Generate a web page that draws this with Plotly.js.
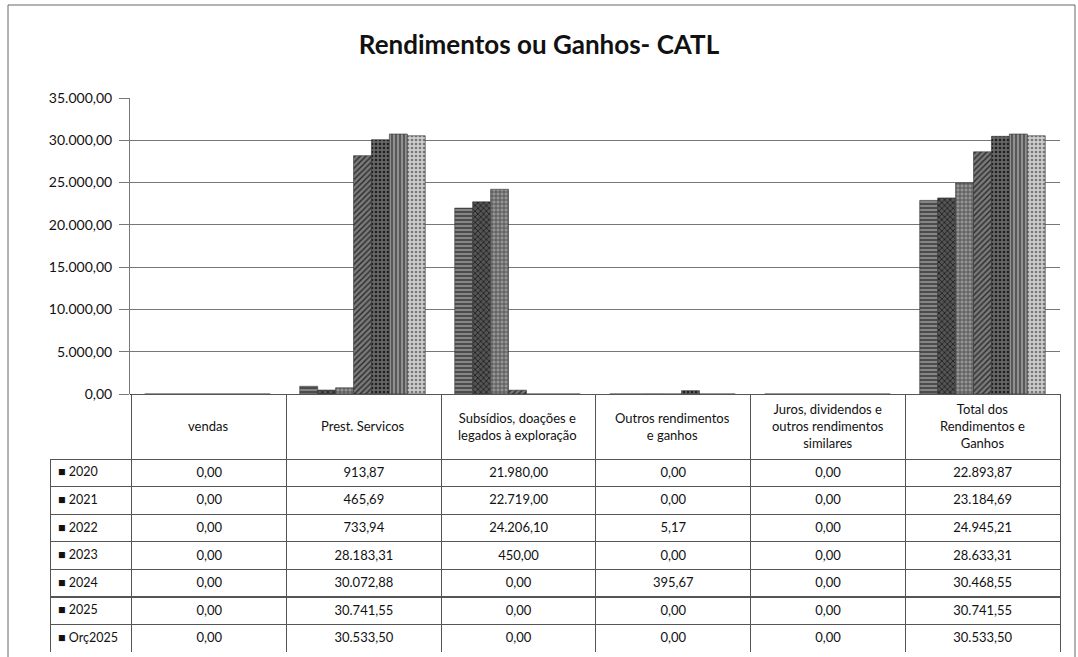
<!DOCTYPE html>
<html>
<head>
<meta charset="utf-8">
<script src="https://cdn.plot.ly/plotly-3.0.1.min.js"></script>
<style>html,body{margin:0;padding:0;background:#fff;}#chart{width:1078px;height:657px;}</style>
</head>
<body>
<div id="chart"></div>
<script>
const categories = ["vendas", "Prest. Servicos", "Subsídios, doações e legados à exploração", "Outros rendimentos e ganhos", "Juros, dividendos e outros rendimentos similares", "Total dos Rendimentos e Ganhos"];
const headerLabels = ["vendas", "Prest. Servicos", "Subsídios, doações e<br>legados à exploração", "Outros rendimentos<br>e ganhos", "Juros, dividendos e<br>outros rendimentos<br>similares", "Total dos<br>Rendimentos e<br>Ganhos"];
const seriesNames = ["2020", "2021", "2022", "2023", "2024", "2025", "Orç2025"];
const v2020 = [0, 913.87, 21980.00, 0, 0, 22893.87];
const v2021 = [0, 465.69, 22719.00, 0, 0, 23184.69];
const v2022 = [0, 733.94, 24206.10, 5.17, 0, 24945.21];
const v2023 = [0, 28183.31, 450.00, 0, 0, 28633.31];
const v2024 = [0, 30072.88, 0, 395.67, 0, 30468.55];
const v2025 = [0, 30741.55, 0, 0, 0, 30741.55];
const vOrc2025 = [0, 30533.50, 0, 0, 0, 30533.50];
const seriesValues = [v2020, v2021, v2022, v2023, v2024, v2025, vOrc2025];

const styles = [
  {bg: "#858585", fg: "#333333", shape: "-"},
  {bg: "#555555", fg: "#1a1a1a", shape: "x"},
  {bg: "#959595", fg: "#444444", shape: "+"},
  {bg: "#7a7a7a", fg: "#2a2a2a", shape: "/"},
  {bg: "#666666", fg: "#202020", shape: "."},
  {bg: "#909090", fg: "#404040", shape: "|"},
  {bg: "#cccccc", fg: "#777777", shape: "."}
];

function fmt(v) {
  const parts = v.toFixed(2).split(".");
  parts[0] = parts[0].replace(/\B(?=(\d{3})+(?!\d))/g, ".");
  return parts[0] + "," + parts[1];
}

const font = "Lato, 'Open Sans', sans-serif";
const traces = seriesNames.map((name, i) => ({
  type: "bar",
  name: name,
  x: categories,
  y: seriesValues[i],
  marker: {
    color: styles[i].bg,
    line: {color: "#333", width: 0.6},
    pattern: {shape: styles[i].shape, bgcolor: styles[i].bg, fgcolor: styles[i].fg, size: 4, solidity: 0.35}
  },
  showlegend: false,
  hoverinfo: "skip"
}));

const labelCol = seriesNames.map(n => "■ " + n);
const cellCols = [labelCol].concat(categories.map((c, j) => seriesValues.map(s => fmt(s[j]))));

traces.push({
  type: "table",
  domain: {x: [50/1078, 1060/1078], y: [1 - 652/657, 1 - 394/657]},
  columnwidth: [82, 155, 155, 155, 155, 155, 155],
  header: {
    values: ["", "", "", "", "", "", ""],
    align: "center",
    height: 65,
    font: {family: font, size: 13, color: "#111"},
    fill: {color: ["rgba(0,0,0,0)", "#fff", "#fff", "#fff", "#fff", "#fff", "#fff"]},
    line: {color: ["rgba(0,0,0,0)", "#555", "#555", "#555", "#555", "#555", "#555"], width: 1}
  },
  cells: {
    values: cellCols,
    align: ["left", "center", "center", "center", "center", "center", "center"],
    height: 27.6,
    font: {family: font, size: [12.5, 13, 13, 13, 13, 13, 13], color: "#111"},
    fill: {color: "#fff"},
    line: {color: "#555", width: 1}
  }
});

const annotations = categories.map((c, j) => ({
  x: c, xref: "x", y: 1 - 426/657, yref: "paper",
  text: headerLabels[j], showarrow: false, align: "center",
  xanchor: "center", yanchor: "middle",
  font: {family: font, size: 13, color: "#111"}
}));

const layout = {
  width: 1078, height: 657,
  margin: {l: 0, r: 0, t: 0, b: 0},
  paper_bgcolor: "#fff", plot_bgcolor: "#fff",
  separators: ",.",
  barmode: "group",
  bargap: 0.19,
  bargroupgap: 0,
  title: {text: "<b>Rendimentos ou Ganhos- CATL</b>", x: 0.5, xanchor: "center", y: 1 - 45/657, yanchor: "middle", font: {family: font, size: 26, color: "#111"}},
  xaxis: {domain: [130/1078, 1060/1078], showticklabels: false, showgrid: false, zeroline: false, showline: false, ticks: "", fixedrange: true},
  yaxis: {
    domain: [1 - 394/657, 1 - 98/657],
    range: [0, 35000], dtick: 5000, tickformat: ",.2f",
    showgrid: true, gridcolor: "#777", gridwidth: 1,
    zeroline: true, zerolinecolor: "#222", zerolinewidth: 1,
    ticks: "outside", ticklen: 10, tickcolor: "#777",
    ticklabelstandoff: 4,
    tickfont: {family: font, size: 14, color: "#111"},
    showline: true, linecolor: "#777", linewidth: 1, fixedrange: true
  },
  annotations: annotations,
  shapes: [
    {type: "rect", xref: "paper", yref: "paper", x0: 8/1078, x1: 1075/1078, y0: -0.05, y1: 1 - 5/657, line: {color: "#666", width: 1}, fillcolor: "rgba(0,0,0,0)"}
  ]
};

Plotly.newPlot("chart", traces, layout, {displayModeBar: false, staticPlot: true});
</script>
</body>
</html>
